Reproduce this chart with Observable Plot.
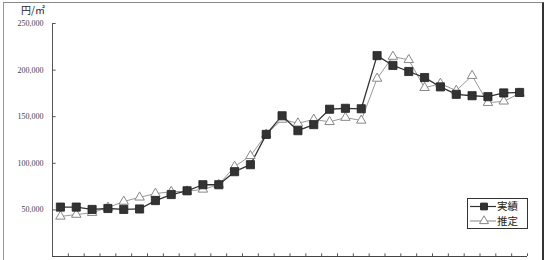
<!DOCTYPE html>
<html>
<head>
<meta charset="utf-8">
<script src="https://cdn.jsdelivr.net/npm/d3@7"></script>
<script src="https://cdn.jsdelivr.net/npm/@observablehq/plot@0.6"></script>
<style>
  html, body { margin: 0; padding: 0; background: #fff; }
  #wrap { position: relative; width: 545px; height: 260px; overflow: hidden; background: #fff; }
  #frame { position: absolute; left: 3px; top: 2px; width: 538px; height: 300px;
           border-top: 1px solid #888; border-left: 1px solid #999; border-right: 2px solid #333; }
  #chart { position: absolute; left: 0; top: 0; }
</style>
</head>
<body>
<div id="wrap"><div id="frame"></div><div id="chart"></div></div>
<script>
const categories = [1,2,3,4,5,6,7,8,9,10,11,12,13,14,15,16,17,18,19,20,21,22,23,24,25,26,27,28,29,30];
const actual = [53000, 53000, 50500, 51500, 50500, 51000, 60000, 66500, 70500, 77000,
                77000, 91000, 98500, 131000, 151000, 135000, 141500, 158000, 159000, 158500,
                215500, 205000, 198500, 192000, 182000, 174000, 172500, 171500, 175500, 176000];
const estimate = [43000, 45000, 47000, 52500, 59000, 63500, 67500, 69500, 70000, 72000,
                  77000, 96500, 108000, 131000, 147000, 143000, 147000, 144500, 149000, 146000,
                  191000, 214500, 211000, 181000, 185500, 178000, 194000, 165000, 166500, 175000];
const yTicks = [0, 50000, 100000, 150000, 200000, 250000];
const unitLabel = "円/㎡";
const seriesNames = ["実績", "推定"];

const data = categories.map((c, i) => ({i, c, actual: actual[i], estimate: estimate[i]}));
const xBounds = d3.range(0, categories.length + 1);
const fmt = d => d === 0 ? "" : d3.format(",")(d);

const plot = Plot.plot({
  width: 545, height: 260,
  marginLeft: 52, marginRight: 18, marginTop: 23, marginBottom: 4,
  x: {domain: [0, categories.length], axis: null},
  y: {domain: [0, 250000], axis: null},
  style: {background: "transparent", overflow: "visible"},
  marks: [
    Plot.link(yTicks, {x1: 0, x2: 0.2, y1: d => d, y2: d => d, stroke: "#555"}),
    Plot.text(yTicks, {x: 0, y: d => d, text: fmt, dx: -9, textAnchor: "end",
      fontFamily: "Liberation Serif", fontSize: 8, fill: "#444"}),
    Plot.ruleX(xBounds, {y1: 0, y2: 2800, stroke: "#555"}),
    Plot.ruleX([0], {y1: 0, y2: 250000, stroke: "#555"}),
    Plot.ruleY([0], {stroke: "#444"}),
    Plot.line(data, {x: d => d.i + 0.5, y: "estimate", stroke: "#999", strokeWidth: 1}),
    Plot.line(data, {x: d => d.i + 0.5, y: "actual", stroke: "#333", strokeWidth: 1.3}),
    Plot.dot(data, {x: d => d.i + 0.5, y: "estimate", symbol: "triangle", r: 3.5,
      fill: "white", stroke: "#888", strokeWidth: 1}),
    Plot.dot(data, {x: d => d.i + 0.5, y: "actual", symbol: "square", r: 4.6,
      fill: "#333", stroke: "#222", strokeWidth: 0.8})
  ]
});
document.getElementById("chart").appendChild(plot);

const svg = d3.select(plot);
svg.append("text").attr("x", 33).attr("y", 14).attr("text-anchor", "middle")
  .attr("font-family", "Noto Sans CJK JP").attr("font-size", 10).attr("fill", "#222")
  .text(unitLabel);

// legend
const lg = svg.append("g");
lg.append("rect").attr("x", 467.5).attr("y", 198.5).attr("width", 60).attr("height", 30)
  .attr("fill", "white").attr("stroke", "#333");
const rows = [
  {y: 206.5, stroke: "#333", sym: d3.symbolSquare, size: 45, fill: "#333", sstroke: "#222"},
  {y: 221, stroke: "#999", sym: d3.symbolTriangle, size: 35, fill: "white", sstroke: "#888"}
];
rows.forEach((r, k) => {
  lg.append("line").attr("x1", 470).attr("x2", 496).attr("y1", r.y).attr("y2", r.y)
    .attr("stroke", r.stroke).attr("stroke-width", 1.2);
  lg.append("path").attr("d", d3.symbol(r.sym, r.size)()).attr("transform", `translate(484,${r.y})`)
    .attr("fill", r.fill).attr("stroke", r.sstroke);
  lg.append("text").attr("x", 497).attr("y", r.y).attr("dy", "0.35em")
    .attr("text-anchor", "start")
    .attr("font-family", "Noto Sans CJK JP").attr("font-size", 10.5).attr("fill", "#222")
    .text(seriesNames[k]);
});
</script>
</body>
</html>
